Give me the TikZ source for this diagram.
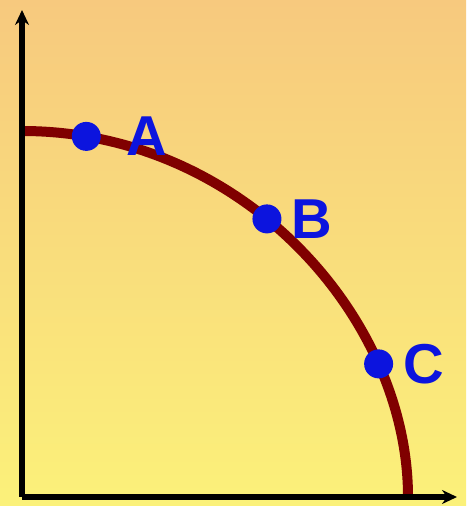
\documentclass[tikz,border=0pt]{standalone}
\usepackage{fontspec}
\setmainfont{Liberation Sans}
\usetikzlibrary{arrows.meta,positioning}
\definecolor{ppfblue}{RGB}{12,20,222}
\definecolor{ppfred}{RGB}{128,0,0}
\definecolor{bgtop}{RGB}{247,201,126}
\definecolor{bgbottom}{RGB}{251,241,122}
\tikzset{
  axis/.style={line width=0.12cm, -{Stealth[length=3mm,width=2.8mm]}},
  frontier/.style={line width=0.2cm, draw=ppfred},
  dot/.style={circle, fill=ppfblue, inner sep=0pt, minimum size=0.58cm},
  lbl/.style={text=ppfblue, font=\fontsize{32}{36}\selectfont\bfseries, inner sep=0pt}
}
\begin{document}
\begin{tikzpicture}[x=0.02cm, y=0.02cm]
  \fill[top color=bgtop, bottom color=bgbottom] (0,0) rectangle (466,506);
  \coordinate (origin) at (22,9);
  \coordinate (ytop) at (22,496);
  \coordinate (xend) at (457,9);
  \coordinate (start) at (22,375);
  \coordinate (stop) at (408,9);
  % frontier curve, then the axes over it
  \draw[frontier] (start) .. controls (242,375) and (408,189) .. (stop)
    coordinate[pos=0.1] (a) coordinate[pos=0.43] (b) coordinate[pos=0.75] (c);
  \draw[axis] (origin) -- (ytop);
  \draw[axis] (origin) -- (xend);
  \node[dot] (ptA) at (a) {};
  \node[dot] (ptB) at (b) {};
  \node[dot] (ptC) at (c) {};
  \node[lbl, right=0.5cm of ptA] (labA) {A};
  \node[lbl, right=0.18cm of ptB] (labB) {B};
  \node[lbl, right=0.2cm of ptC] (labC) {C};
\end{tikzpicture}
\end{document}
